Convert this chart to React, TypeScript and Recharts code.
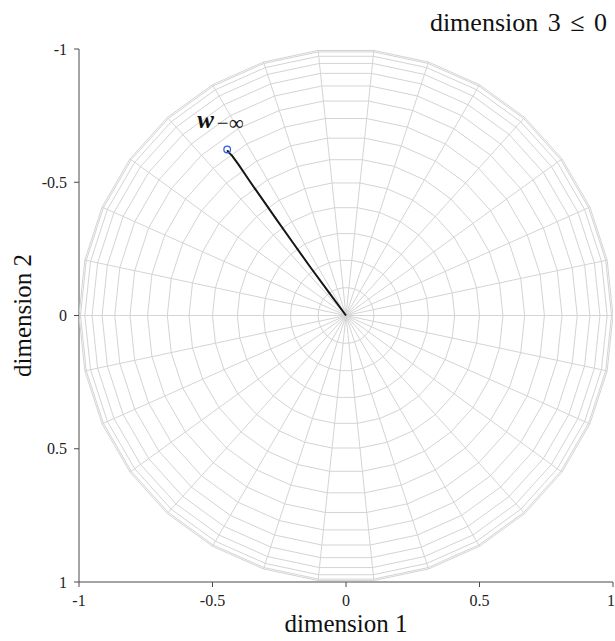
import { ScatterChart, Scatter, XAxis, YAxis, Label } from 'recharts'

// sphere mesh (lower hemisphere seen from above)
const ringPolarDeg = [6, 12, 18, 24, 30, 36, 42, 48, 54, 60, 66, 72, 78, 84, 90]
const meridianDeg = [0, 12, 24, 36, 48, 60, 72, 84, 96, 108, 120, 132, 144, 156, 168, 180, 192, 204, 216, 228, 240, 252, 264, 276, 288, 300, 312, 324, 336, 348]

const xTicks = [-1, -0.5, 0, 0.5, 1]
const yTicks = [-1, -0.5, 0, 0.5, 1]

// trajectory
const pathX = [0, -0.062, -0.134, -0.198, -0.26, -0.318, -0.366, -0.403, -0.427, -0.441, -0.445]
const pathY = [0, -0.084, -0.182, -0.272, -0.36, -0.443, -0.512, -0.567, -0.6, -0.614, -0.62]
const endX = -0.445
const endY = -0.623

const rad = (d: number) => (d * Math.PI) / 180

const rings = ringPolarDeg.map((t) =>
    [...meridianDeg, 360].map((p) => ({
        x: Math.sin(rad(t)) * Math.cos(rad(p)),
        y: Math.sin(rad(t)) * Math.sin(rad(p)),
    }))
)
const meridians = meridianDeg.map((p) => [
    { x: 0, y: 0 },
    { x: Math.cos(rad(p)), y: Math.sin(rad(p)) },
])
const pathData = pathX.map((x, i) => ({ x, y: pathY[i] }))
const endData = [{ x: endX, y: endY }]

const FONT = '"Liberation Serif", "Times New Roman", serif'
const GRID = '#d4d4d4'
const AXIS = '#4a4a4a'

const noDot = () => <g />

function EndMarker(props: any) {
    const { cx, cy } = props
    return (
        <g>
            <circle cx={cx} cy={cy} r={3.3} fill="none" stroke="#2d5fe0" strokeWidth={1.3} />
            <text x={cx - 30} y={cy - 21} fontFamily={FONT} fill="#111">
                <tspan fontSize={25} fontWeight="bold" fontStyle="italic">w</tspan>
                <tspan fontSize={21} dy={2} dx={3}>−∞</tspan>
            </text>
        </g>
    )
}

export default function App() {
    return (
        <div style={{ position: 'relative', width: 615, height: 641, fontFamily: FONT }}>
            <style>{'body{margin:0}'}</style>
            <div
                style={{
                    position: 'absolute',
                    right: 8,
                    top: 8,
                    fontSize: 26,
                    wordSpacing: 3,
                    color: '#111',
                    whiteSpace: 'nowrap',
                }}
            >
                dimension 3 ≤ 0
            </div>
            <ScatterChart width={615} height={641} margin={{ top: 49, right: 2, bottom: 0, left: 0 }}>
                <XAxis
                    type="number"
                    dataKey="x"
                    domain={[-1, 1]}
                    ticks={xTicks}
                    allowDataOverflow
                    height={59}
                    stroke={AXIS}
                    tickSize={5}
                    tickMargin={8}
                    tick={{ fontSize: 16, fill: '#222', fontFamily: FONT }}
                >
                    <Label
                        content={({ viewBox }: any) => (
                            <text
                                x={viewBox.x + viewBox.width / 2}
                                y={632}
                                textAnchor="middle"
                                fontSize={25}
                                fontFamily={FONT}
                                fill="#111"
                            >
                                dimension 1
                            </text>
                        )}
                    />
                </XAxis>
                <YAxis
                    type="number"
                    dataKey="y"
                    domain={[-1, 1]}
                    ticks={yTicks}
                    reversed
                    allowDataOverflow
                    width={79}
                    stroke={AXIS}
                    tickSize={5}
                    tickMargin={7}
                    tick={{ fontSize: 16, fill: '#222', fontFamily: FONT }}
                >
                    <Label
                        content={({ viewBox }: any) => {
                            const cy = viewBox.y + viewBox.height / 2
                            return (
                                <text
                                    x={31}
                                    y={cy}
                                    transform={`rotate(-90 31 ${cy})`}
                                    textAnchor="middle"
                                    fontSize={25}
                                    fontFamily={FONT}
                                    fill="#111"
                                >
                                    dimension 2
                                </text>
                            )
                        }}
                    />
                </YAxis>
                {rings.map((d, i) => (
                    <Scatter
                        key={'r' + i}
                        data={d}
                        line={{ stroke: GRID, strokeWidth: 1 }}
                        lineType="joint"
                        shape={noDot}
                        legendType="none"
                        isAnimationActive={false}
                    />
                ))}
                {meridians.map((d, i) => (
                    <Scatter
                        key={'m' + i}
                        data={d}
                        line={{ stroke: GRID, strokeWidth: 1 }}
                        lineType="joint"
                        shape={noDot}
                        legendType="none"
                        isAnimationActive={false}
                    />
                ))}
                <Scatter
                    data={pathData}
                    line={{ stroke: '#161616', strokeWidth: 2, strokeLinejoin: 'round' }}
                    lineType="joint"
                    shape={noDot}
                    legendType="none"
                    isAnimationActive={false}
                />
                <Scatter data={endData} shape={EndMarker} legendType="none" isAnimationActive={false} />
            </ScatterChart>
        </div>
    )
}
